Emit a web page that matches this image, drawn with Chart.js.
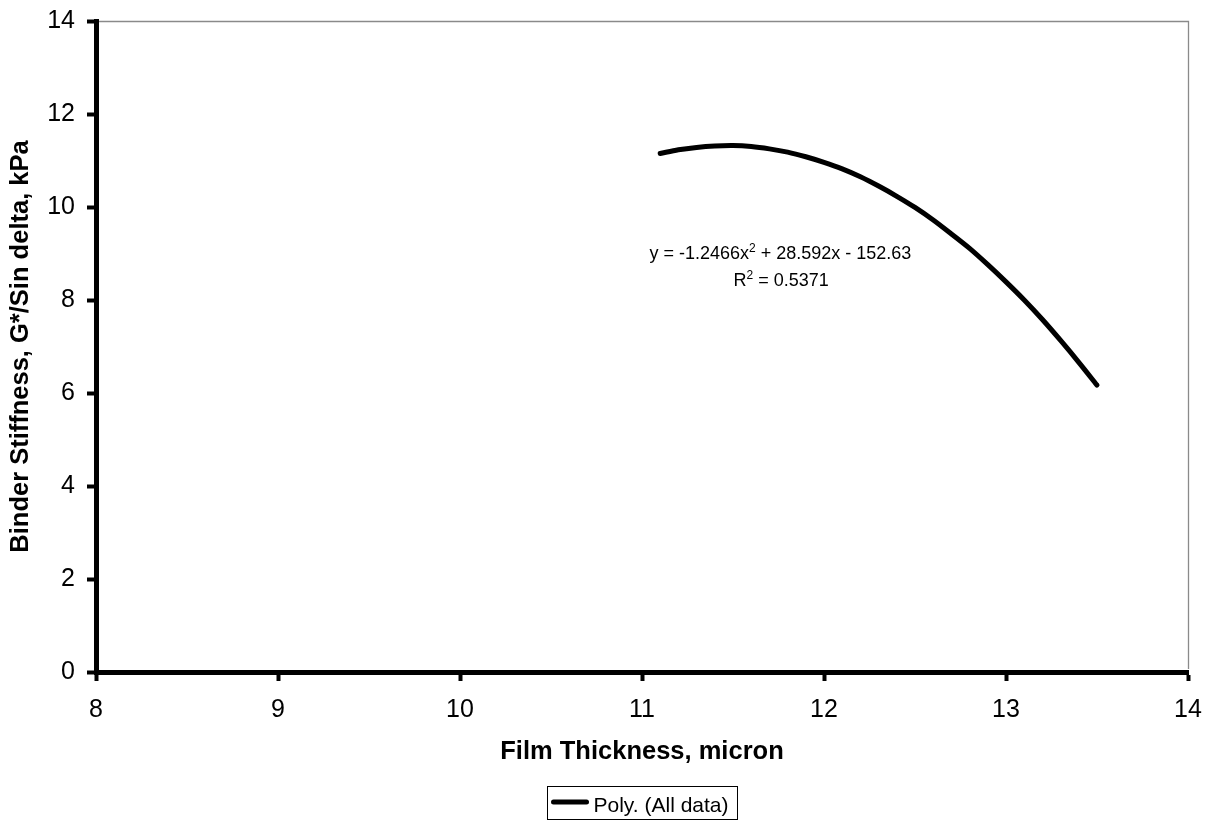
<!DOCTYPE html>
<html>
<head>
<meta charset="utf-8">
<script src="https://cdn.jsdelivr.net/npm/chart.js@4/dist/chart.umd.min.js"></script>
<style>
  html, body { margin: 0; padding: 0; background: #ffffff; }
  #wrap { width: 1216px; height: 823px; position: relative; }
  canvas { display: block; }
</style>
</head>
<body>
<div id="wrap"><canvas id="chart" width="1216" height="823"></canvas></div>
<script>
// ---- Data ----
const filmThickness = [11.1, 11.2, 11.3, 11.4, 11.5, 11.6, 11.7, 11.8, 11.9, 12.0,
                       12.1, 12.2, 12.3, 12.4, 12.5, 12.6, 12.7, 12.8, 12.9, 13.0,
                       13.1, 13.2, 13.3, 13.4, 13.5];
const binderStiffness = [11.15, 11.23, 11.28, 11.31, 11.32, 11.30, 11.25, 11.18, 11.08, 10.96,
                         10.82, 10.65, 10.45, 10.23, 9.99, 9.72, 9.42, 9.11, 8.76, 8.39,
                         8.00, 7.58, 7.13, 6.66, 6.17];
const xTickValues = [8, 9, 10, 11, 12, 13, 14];
const yTickValues = [0, 2, 4, 6, 8, 10, 12, 14];
const seriesLabel = 'Poly. (All data)';
const xTitle = 'Film Thickness, micron';
const yTitle = 'Binder Stiffness, G*/Sin delta, kPa';
// equation parts: [text, isSuperscript]
const equationLine = [['y = -1.2466x', false], ['2', true], [' + 28.592x - 152.63', false]];
const rSquaredLine = [['R', false], ['2', true], [' = 0.5371', false]];

const FONT = '"Liberation Sans", Arial, Helvetica, sans-serif';

function drawParts(ctx, parts, cx, cy, size) {
  const mainFont = size + 'px ' + FONT;
  const supFont = Math.round(size * 0.65) + 'px ' + FONT;
  let total = 0;
  const widths = parts.map(([t, sup]) => {
    ctx.font = sup ? supFont : mainFont;
    const w = ctx.measureText(t).width;
    total += w;
    return w;
  });
  let x = cx - total / 2;
  const baseY = cy + size * 0.358;
  ctx.textAlign = 'left';
  ctx.textBaseline = 'alphabetic';
  parts.forEach(([t, sup], i) => {
    ctx.font = sup ? supFont : mainFont;
    ctx.fillText(t, x, sup ? baseY - size * 0.42 : baseY);
    x += widths[i];
  });
}

const framePlugin = {
  id: 'frame',
  afterDraw(chart) {
    const { ctx, chartArea: a } = chart;
    ctx.save();
    ctx.strokeStyle = '#8a8a8a';
    ctx.lineWidth = 1.3;
    ctx.beginPath();
    ctx.moveTo(a.left + 3, a.top + 0.5);
    ctx.lineTo(a.right + 0.5, a.top + 0.5);
    ctx.lineTo(a.right + 0.5, a.bottom - 3);
    ctx.stroke();
    ctx.restore();
  }
};

const equationPlugin = {
  id: 'equation',
  afterDatasetsDraw(chart, args, opts) {
    const { ctx, scales } = chart;
    ctx.save();
    ctx.fillStyle = '#000';
    const cx = scales.x.getPixelForValue(opts.x);
    drawParts(ctx, equationLine, cx, scales.y.getPixelForValue(opts.y1), opts.size);
    drawParts(ctx, rSquaredLine, scales.x.getPixelForValue(opts.x2), scales.y.getPixelForValue(opts.y2), opts.size);
    ctx.restore();
  }
};

const legendPlugin = {
  id: 'boxLegend',
  afterDraw(chart, args, opts) {
    const { ctx, chartArea: a } = chart;
    ctx.save();
    ctx.font = opts.size + 'px ' + FONT;
    const tw = ctx.measureText(seriesLabel).width;
    const padL = 4, lineW = 37, gap = 5, padR = 9;
    const W = padL + lineW + gap + tw + padR;
    const H = 33;
    const cx = (a.left + a.right) / 2;
    const left = Math.round(cx - W / 2) + 0.5;
    const top = opts.top + 0.5;
    ctx.strokeStyle = '#000';
    ctx.lineWidth = 1;
    ctx.strokeRect(left, top, W, H);
    const cy = top + H / 2;
    ctx.lineWidth = 5;
    ctx.lineCap = 'round';
    ctx.beginPath();
    ctx.moveTo(left + padL + 2, cy - 1);
    ctx.lineTo(left + padL + lineW - 2, cy - 1);
    ctx.stroke();
    ctx.fillStyle = '#000';
    ctx.textAlign = 'left';
    ctx.textBaseline = 'alphabetic';
    ctx.fillText(seriesLabel, left + padL + lineW + gap, cy + opts.size * 0.358 + 1);
    ctx.restore();
  }
};

const tickFont = { family: FONT, size: 25 };
const titleFont = { family: FONT, size: 25.5, weight: 'bold' };

new Chart(document.getElementById('chart'), {
  type: 'scatter',
  data: {
    datasets: [{
      label: seriesLabel,
      data: filmThickness.map((x, i) => ({ x: x, y: binderStiffness[i] })),
      showLine: true,
      borderColor: '#000000',
      backgroundColor: '#000000',
      borderWidth: 5,
      borderCapStyle: 'round',
      pointRadius: 0,
      pointHoverRadius: 0,
      tension: 0.3,
      clip: false
    }]
  },
  options: {
    responsive: false,
    animation: false,
    devicePixelRatio: 1,
    events: [],
    layout: { padding: { left: 0, top: 21, right: 28, bottom: 56 } },
    plugins: {
      legend: { display: false },
      tooltip: { enabled: false },
      equation: { x: 11.76, y1: 9.01, x2: 11.765, y2: 8.43, size: 18 },
      boxLegend: { top: 786, size: 21 }
    },
    scales: {
      x: {
        type: 'linear',
        min: 8,
        max: 14,
        afterBuildTicks: (s) => { s.ticks = xTickValues.map(v => ({ value: v })); },
        afterFit: (s) => { s.height = 95; s.paddingLeft = 0; s.paddingRight = 0; },
        ticks: { font: tickFont, color: '#000', padding: 14, maxRotation: 0 },
        grid: { drawOnChartArea: false, drawTicks: true, tickLength: 9, tickWidth: 4, tickColor: '#000' },
        border: { display: true, color: '#000', width: 5 },
        title: { display: true, text: xTitle, font: titleFont, color: '#000', padding: { top: 0, bottom: 0 } }
      },
      y: {
        type: 'linear',
        min: 0,
        max: 14,
        afterBuildTicks: (s) => { s.ticks = yTickValues.map(v => ({ value: v })); },
        afterFit: (s) => { s.width = 96; s.paddingTop = 0; s.paddingBottom = 0; },
        ticks: { font: tickFont, color: '#000', padding: 12 },
        grid: { drawOnChartArea: false, drawTicks: true, tickLength: 9, tickWidth: 4, tickColor: '#000' },
        border: { display: true, color: '#000', width: 5 },
        title: { display: true, text: yTitle, font: titleFont, color: '#000', padding: { top: 6, bottom: 0 } }
      }
    }
  },
  plugins: [framePlugin, equationPlugin, legendPlugin]
});
</script>
</body>
</html>
